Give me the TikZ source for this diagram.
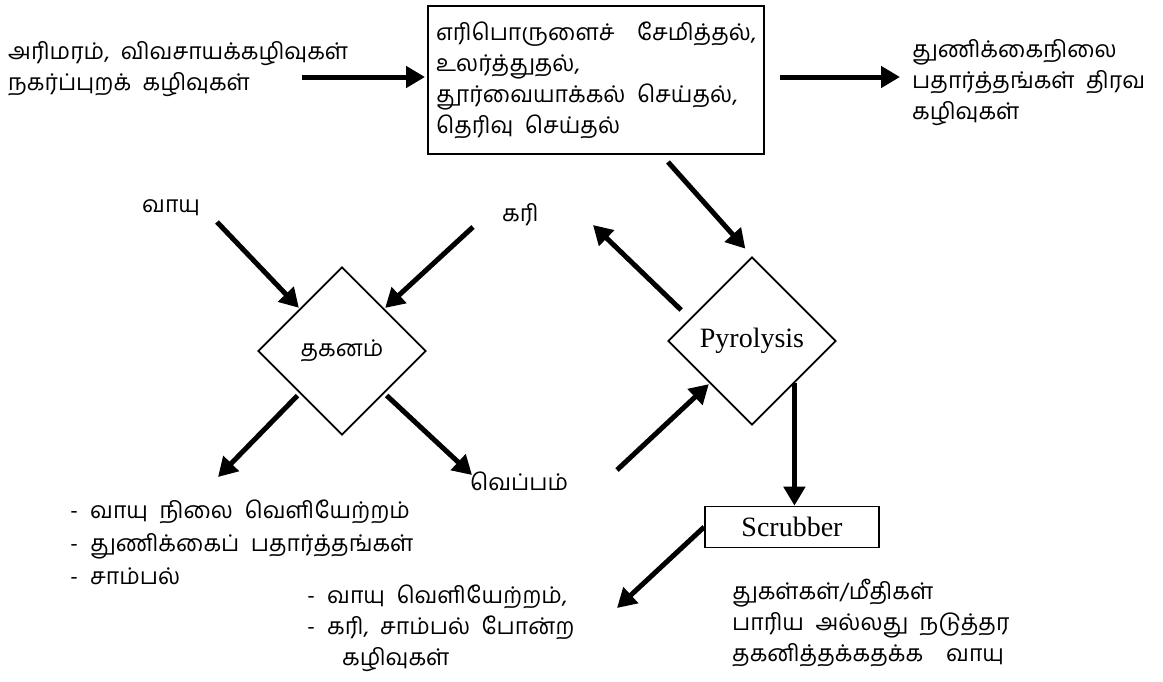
\documentclass[tikz,border=0pt]{standalone}
\usepackage{fontspec}
\setmainfont{Liberation Serif}
\newfontfamily\tamil[Script=Tamil]{Hind Madurai}
\usetikzlibrary{shapes.geometric,arrows.meta,positioning}
\tikzset{
  arr/.style={line width=5pt, -{Triangle[length=19pt,width=21pt]}},
  txt/.style={font=\tamil\fontsize{23}{31}\selectfont, inner sep=0pt, align=left},
  latin/.style={font=\rmfamily\fontsize{28}{32}\selectfont},
  decision/.style={draw, line width=1.7pt, diamond, minimum width=168pt, minimum height=168pt, inner sep=0pt},
}
\begin{document}
\begin{tikzpicture}[x=1pt, y=-1pt]
  \useasboundingbox (0, 0) rectangle (1163, 681);
  \coordinate (row) at (0, 77);

  \node[txt, anchor=west] (feed) at (8, 69) {அரிமரம்,\enspace விவசாயக்கழிவுகள்\\நகர்ப்புறக்\enspace கழிவுகள்};
  \node[txt, draw, line width=2.3pt, anchor=north west, text width=320pt, inner xsep=8pt,
        minimum width=336pt, minimum height=148pt] (prep) at (427, 5)
    {எரிபொருளைச்\hfill சேமித்தல்,\\உலர்த்துதல்,\\தூர்வையாக்கல்\enspace செய்தல்,\\தெரிவு\enspace செய்தல்};
  \node[txt, anchor=west] (liquid) at (912, 83) {துணிக்கைநிலை\\பதார்த்தங்கள்\enspace திரவ\\கழிவுகள்};

  \node[txt, anchor=west] (air) at (142, 208) {வாயு};
  \node[txt, anchor=west] (char) at (502, 215) {கரி};
  \node[decision, txt] (burn) at (342, 351) {தகனம்};
  \node[decision, latin] (pyro) at (752, 341) {Pyrolysis};
  \node[txt, anchor=west] (heat) at (470, 481) {வெப்பம்};
  \node[draw, line width=1.7pt, latin, minimum width=174pt, minimum height=41pt, inner sep=0pt] (scrub) at (792, 527) {Scrubber};

  \node[txt, anchor=north west] (burnout) at (70, 500)
    {-\hspace{12pt}வாயு\enspace நிலை\enspace வெளியேற்றம்\\[2pt]-\hspace{12pt}துணிக்கைப்\enspace பதார்த்தங்கள்\\[2pt]-\hspace{12pt}சாம்பல்};
  \node[txt, anchor=north west] (gasout) at (307, 585)
    {-\hspace{12pt}வாயு\enspace வெளியேற்றம்,\\-\hspace{12pt}கரி,\enspace சாம்பல்\enspace போன்ற\\\hspace{35pt}கழிவுகள்};
  \node[txt, anchor=north west] (dust) at (732, 579)
    {துகள்கள்/மீதிகள்\\பாரிய\enspace அல்லது\enspace நடுத்தர\\தகனித்தக்கதக்க\quad வாயு};

  % free ends of the arrows
  \coordinate (feedtail) at (302, 77);
  \coordinate (airtail) at (217, 222);
  \coordinate (chartail) at (473, 227);
  \coordinate (ashtip) at (218, 477);
  \coordinate (heattip) at (472, 475);
  \coordinate (heattail) at (617, 470);
  \coordinate (chartip) at (593, 225);
  \coordinate (preptail) at (668, 162);
  \coordinate (gastip) at (617, 608);

  \draw[arr, shorten >=2pt] (feedtail) -- (prep.west |- row);
  \draw[arr, shorten <=15pt, shorten >=12pt] (prep.east |- row) -- (liquid.west |- row);
  \draw[arr, shorten >=1pt] (airtail) -- (burn.north west);
  \draw[arr, shorten >=1pt] (chartail) -- (burn.north east);
  \draw[arr, shorten <=3pt] (burn.south west) -- (ashtip);
  \draw[arr, shorten <=3pt] (burn.south east) -- (heattip);
  \draw[arr, shorten >=1pt] (heattail) -- (pyro.south west);
  \draw[arr, shorten >=10pt] (preptail) -- (pyro.north);
  \draw[arr, shorten <=12pt] (pyro.160) -- (chartip);
  \draw[arr] (pyro.south east) -- (pyro.south east |- scrub.north);
  \draw[arr] (scrub.west) -- (gastip);
\end{tikzpicture}
\end{document}
